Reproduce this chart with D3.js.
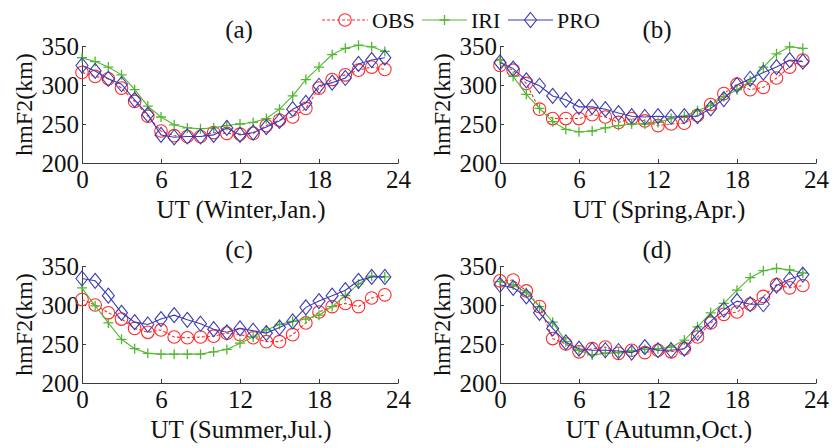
<!DOCTYPE html>
<html>
<head>
<meta charset="utf-8">
<script src="https://cdn.jsdelivr.net/npm/d3@7"></script>
<style>
  body { margin: 0; background: #fff; }
  svg { display: block; font-family: "Liberation Serif", "Times New Roman", serif; }
</style>
</head>
<body>
<svg id="chart" width="838" height="448"></svg>
<script>
// hours of the day (UT)
const hours = d3.range(0, 24);
const xTicks = [0, 6, 12, 18, 24];
const yTicks = [200, 250, 300, 350];
const seriesNames = ["OBS", "IRI", "PRO"];
const panelTitles = ["(a)", "(b)", "(c)", "(d)"];
const xLabels = ["UT (Winter,Jan.)", "UT (Spring,Apr.)", "UT (Summer,Jul.)", "UT (Autumn,Oct.)"];

// hmF2 values (km), one entry per hour
const obsWinter = [316, 311, 308, 296, 279, 260, 241, 235, 234, 234, 239, 238, 237, 238, 248, 255, 259, 270, 296, 307, 313, 319, 323, 320];
const iriWinter = [335, 330, 323, 313, 294, 273, 259, 249, 245, 244, 245, 248, 250, 252, 257, 269, 286, 307, 323, 339, 347, 351, 349, 343];
const proWinter = [325, 318, 308, 301, 281, 262, 236, 233, 234, 234, 236, 245, 236, 239, 246, 254, 269, 277, 299, 303, 309, 327, 332, 335];

const obsSpring = [325, 319, 302, 269, 257, 257, 257, 262, 259, 252, 257, 254, 248, 250, 251, 261, 275, 289, 301, 294, 297, 309, 323, 332];
const iriSpring = [332, 311, 288, 270, 253, 243, 240, 241, 245, 248, 250, 250, 252, 257, 260, 267, 274, 285, 294, 305, 323, 340, 349, 347];
const proSpring = [329, 321, 306, 299, 286, 281, 272, 272, 269, 264, 260, 259, 260, 259, 260, 260, 270, 282, 300, 308, 316, 323, 332, 330];

const obsSummer = [307, 300, 290, 282, 270, 265, 268, 259, 258, 259, 260, 264, 262, 258, 253, 253, 262, 277, 291, 298, 302, 298, 309, 313];
const iriSummer = [322, 299, 277, 256, 244, 238, 237, 237, 237, 237, 240, 243, 251, 259, 268, 275, 279, 282, 287, 298, 312, 327, 337, 336];
const proSummer = [334, 331, 312, 290, 278, 275, 282, 287, 281, 276, 269, 265, 270, 267, 264, 271, 279, 297, 305, 312, 319, 331, 336, 336];

const obsAutumn = [331, 332, 318, 298, 257, 250, 240, 244, 246, 238, 242, 239, 242, 240, 244, 259, 277, 288, 291, 301, 311, 326, 322, 325];
const iriAutumn = [330, 326, 316, 298, 278, 253, 242, 236, 238, 239, 241, 243, 244, 246, 255, 272, 290, 302, 319, 335, 344, 347, 345, 341];
const proAutumn = [326, 322, 311, 290, 270, 252, 244, 242, 242, 241, 239, 246, 242, 242, 244, 264, 279, 294, 305, 301, 301, 325, 333, 339];

const panelData = [
  [obsWinter, iriWinter, proWinter],
  [obsSpring, iriSpring, proSpring],
  [obsSummer, iriSummer, proSummer],
  [obsAutumn, iriAutumn, proAutumn],
];

const colors = { OBS: "#ff2a2a", IRI: "#52b830", PRO: "#3b3bb5" };
const dashes = { OBS: "3,2", IRI: null, PRO: null };

const svg = d3.select("#chart");

// panel boxes (left, top) - all share the same size
const panelPos = [
  { left: 82, top: 46 },
  { left: 500, top: 46 },
  { left: 82, top: 266 },
  { left: 500, top: 266 },
];
const pw = 316, ph = 117;
const fs = "25px";

function drawMarker(g, name, px, py) {
  const c = colors[name];
  if (name === "OBS") {
    g.append("circle").attr("cx", px).attr("cy", py).attr("r", 6.3)
      .attr("fill", "none").attr("stroke", c).attr("stroke-width", 1.1);
  } else if (name === "IRI") {
    g.append("path").attr("d", `M${px - 5},${py}H${px + 5}M${px},${py - 5}V${py + 5}`)
      .attr("stroke", c).attr("stroke-width", 1.3);
  } else {
    g.append("path").attr("d", `M${px},${py - 7.5}L${px + 6},${py}L${px},${py + 7.5}L${px - 6},${py}Z`)
      .attr("fill", "none").attr("stroke", c).attr("stroke-width", 1.1);
  }
}

panelData.forEach((series, i) => {
  const p = panelPos[i];
  const g = svg.append("g");

  const x = d3.scaleLinear().domain([0, 24]).range([p.left, p.left + pw]);
  const y = d3.scaleLinear().domain([200, 350]).range([p.top + ph, p.top]);

  // axes, ticks pointing into the plot
  const xAxis = g.append("g")
    .attr("transform", `translate(0,${p.top + ph})`)
    .call(d3.axisBottom(x).tickValues(xTicks).tickSizeInner(-4).tickSizeOuter(0).tickPadding(12));
  const yAxis = g.append("g")
    .attr("transform", `translate(${p.left},0)`)
    .call(d3.axisLeft(y).tickValues(yTicks).tickSizeInner(-4).tickSizeOuter(0).tickPadding(3));

  [xAxis, yAxis].forEach(a => {
    a.selectAll("path, line").attr("stroke", "#3a3a3a").attr("stroke-width", 1);
    a.selectAll("text").attr("fill", "#111").style("font-size", fs)
      .style("font-family", "Liberation Serif");
  });
  xAxis.selectAll("text").attr("dy", "0.71em").attr("y", 7);

  // series lines and markers
  series.forEach((vals, k) => {
    const name = seriesNames[k];
    const line = d3.line().x((d, j) => x(hours[j])).y(d => y(d));
    g.append("path").datum(vals)
      .attr("d", line)
      .attr("fill", "none")
      .attr("stroke", colors[name])
      .attr("stroke-width", 1.1)
      .attr("stroke-dasharray", dashes[name]);
    vals.forEach((v, j) => drawMarker(g, name, x(hours[j]), y(v)));
  });

  // titles and axis labels
  g.append("text").attr("x", p.left + pw / 2 - 1).attr("y", p.top - 8)
    .attr("text-anchor", "middle").style("font-size", fs).attr("fill", "#111")
    .text(panelTitles[i]);
  g.append("text").attr("x", p.left + pw / 2 + 1).attr("y", p.top + ph + 55)
    .attr("text-anchor", "middle").style("font-size", fs).attr("fill", "#111")
    .text(xLabels[i]);
  g.append("text")
    .attr("transform", `translate(${p.left - 50},${p.top + ph / 2}) rotate(-90)`)
    .attr("text-anchor", "middle").style("font-size", "24px").attr("fill", "#111")
    .text("hmF2(km)");
});

// legend across the top
const legendItems = [
  { name: "OBS", x1: 322, x2: 368, tx: 372 },
  { name: "IRI", x1: 422, x2: 467, tx: 471 },
  { name: "PRO", x1: 508, x2: 553, tx: 557 },
];
const ly = 20;
const legend = svg.append("g");
legendItems.forEach(it => {
  legend.append("line").attr("x1", it.x1).attr("x2", it.x2).attr("y1", ly).attr("y2", ly)
    .attr("stroke", colors[it.name]).attr("stroke-width", 1.1)
    .attr("stroke-dasharray", dashes[it.name]);
  drawMarker(legend, it.name, (it.x1 + it.x2) / 2, ly);
  legend.append("text").attr("x", it.tx).attr("y", ly + 8)
    .style("font-size", "22px").attr("fill", "#111").text(it.name);
});
</script>
</body>
</html>
